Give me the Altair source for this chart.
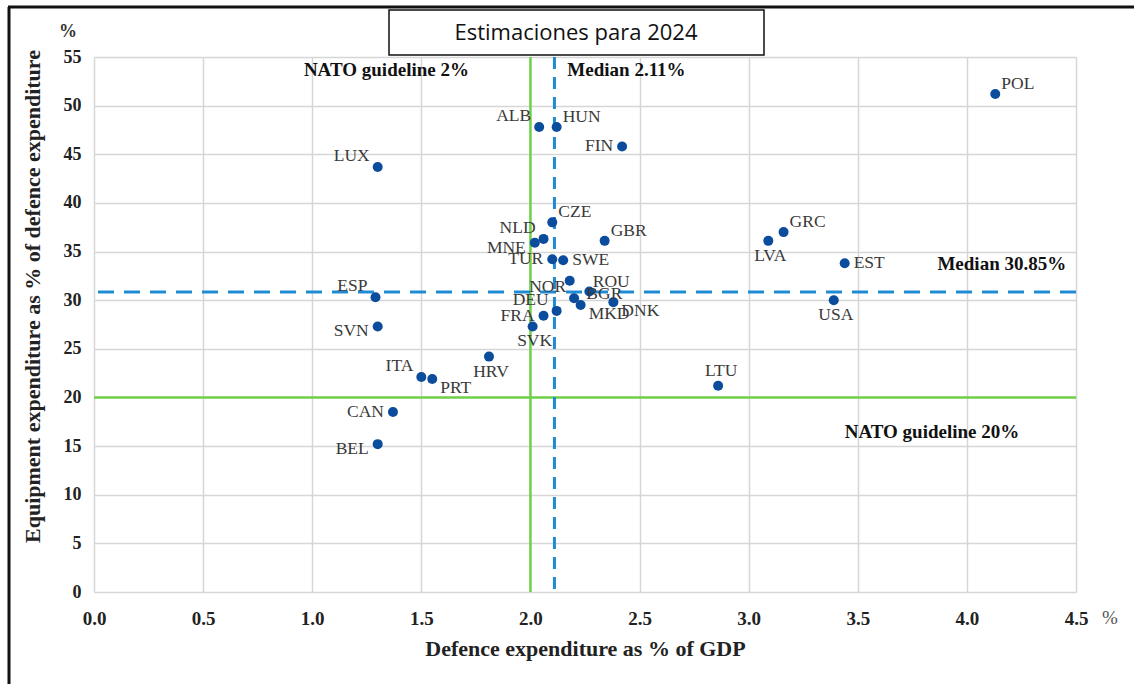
import altair as alt
import pandas as pd

# ---- data ----
countries = ["POL", "ALB", "HUN", "FIN", "LUX", "CZE", "NLD", "MNE", "TUR", "SWE",
             "GBR", "ROU", "NOR", "BGR", "MKD", "DNK", "DEU", "FRA", "SVK", "ESP",
             "SVN", "ITA", "PRT", "HRV", "CAN", "BEL", "LTU", "USA", "EST", "LVA", "GRC"]
gdp_share = [4.13, 2.04, 2.12, 2.42, 1.30, 2.10, 2.06, 2.02, 2.10, 2.15,
             2.34, 2.18, 2.20, 2.27, 2.23, 2.38, 2.12, 2.06, 2.01, 1.29,
             1.30, 1.50, 1.55, 1.81, 1.37, 1.30, 2.86, 3.39, 3.44, 3.09, 3.16]
equip_share = [51.2, 47.8, 47.8, 45.8, 43.7, 38.0, 36.3, 35.9, 34.2, 34.1,
               36.1, 32.0, 30.2, 30.9, 29.5, 29.8, 28.9, 28.4, 27.3, 30.3,
               27.3, 22.1, 21.9, 24.2, 18.5, 15.2, 21.2, 30.0, 33.8, 36.1, 37.0]
label_side = ["RU", "LU", "RU", "L", "LU", "RU", "LU", "LD", "L", "R",
              "RU", "RF", "LU", "RO", "RD", "RD", "LU", "L", "B", "LU",
              "LD", "LU", "RD", "B", "L", "LD", "A", "B", "R", "B", "RU"]

guide_x = [2.0]
median_x = [2.11]
guide_y = [20.0]
median_y = [30.85]

notes = ["NATO guideline 2%", "Median 2.11%", "Median 30.85%", "NATO guideline 20%"]
note_x = [1.34, 2.44, 4.16, 3.84]
note_y = [53.7, 53.7, 33.7, 16.4]

x_ticks = [0.0, 0.5, 1.0, 1.5, 2.0, 2.5, 3.0, 3.5, 4.0, 4.5]
y_ticks = [0, 5, 10, 15, 20, 25, 30, 35, 40, 45, 50, 55]

title_text = "Estimaciones para 2024"

df = pd.DataFrame({"country": countries, "gdp": gdp_share, "equip": equip_share, "side": label_side})
notes_df = pd.DataFrame({"text": notes, "x": note_x, "y": note_y})
one = pd.DataFrame({"k": [0]})

W, H = 982, 535
SERIF = "Liberation Serif"
xs = alt.Scale(domain=[0, 4.5], nice=False, zero=True)
ys = alt.Scale(domain=[0, 55], nice=False, zero=True)

GREEN = "#6fd14a"
BLUE = "#1f8bd3"
DOT = "#0b4c9c"

x_enc = alt.X("gdp:Q", scale=xs, axis=alt.Axis(
    values=x_ticks, format=".1f", title="Defence expenditure as % of GDP",
    titleY=56, titleBaseline="middle", labelPadding=17, labelFlush=False, labelFontSize=19))
y_enc = alt.Y("equip:Q", scale=ys, axis=alt.Axis(
    values=y_ticks, format="d", title="Equipment expenditure as % of defence expenditure",
    titleX=-62, titleY=239, titleAlign="center", titleBaseline="middle", labelPadding=13,
    labelFlush=False))

points = alt.Chart(df).mark_circle(size=100, color=DOT, opacity=1).encode(x=x_enc, y=y_enc)

placements = {
    "L": ("right", -9, 0),
    "LU": ("right", -8, -11),
    "LD": ("right", -9, 5),
    "R": ("left", 9, 0),
    "RF": ("left", 23, 1),
    "RO": ("left", -3, 3),
    "RU": ("left", 6, -10),
    "RD": ("left", 8, 9),
    "B": ("center", 2, 15),
    "A": ("center", 3, -15),
}
label_layers = []
for key, (al, dx, dy) in placements.items():
    label_layers.append(
        alt.Chart(df).transform_filter(alt.datum.side == key)
        .mark_text(font=SERIF, fontSize=17.5, color="#3a3a3a", align=al, dx=dx, dy=dy, baseline="middle")
        .encode(x=alt.X("gdp:Q", scale=xs), y=alt.Y("equip:Q", scale=ys), text="country:N")
    )

vguide = alt.Chart(pd.DataFrame({"v": guide_x})).mark_rule(color=GREEN, strokeWidth=2.5).encode(
    x=alt.X("v:Q", scale=xs))
hguide = alt.Chart(pd.DataFrame({"v": guide_y})).mark_rule(color=GREEN, strokeWidth=2.5).encode(
    y=alt.Y("v:Q", scale=ys))
vmed = alt.Chart(pd.DataFrame({"v": median_x})).mark_rule(color=BLUE, strokeWidth=3, strokeDash=[12, 8]).encode(
    x=alt.X("v:Q", scale=xs))
hmed = alt.Chart(pd.DataFrame({"v": median_y})).mark_rule(color=BLUE, strokeWidth=3, strokeDash=[16, 10]).encode(
    y=alt.Y("v:Q", scale=ys))

note_layer = alt.Chart(notes_df).mark_text(font=SERIF, fontSize=19, fontWeight="bold", color="#111",
                                           align="center", baseline="middle").encode(
    x=alt.X("x:Q", scale=xs), y=alt.Y("y:Q", scale=ys), text="text:N")

# decorations: title box, frame, unit marks
title_box = alt.Chart(one).mark_rect(fill="white", stroke="#111", strokeWidth=1.5).encode(
    x=alt.value(295), x2=alt.value(670), y=alt.value(-47), y2=alt.value(-2))
title_lbl = alt.Chart(one).mark_text(text=title_text, font="Open Sans", fontSize=22, color="#111",
                                     align="center", baseline="middle").encode(
    x=alt.value(482), y=alt.value(-24))
frame_top = alt.Chart(one).mark_rule(color="#111", strokeWidth=3).encode(
    x=alt.value(-86), x2=alt.value(1040), y=alt.value(-50))
frame_left = alt.Chart(one).mark_rule(color="#111", strokeWidth=3).encode(
    x=alt.value(-85), y=alt.value(-50), y2=alt.value(627))
pct_x = alt.Chart(one).mark_text(text="%", font=SERIF, fontSize=19, color="#555",
                                 align="center", baseline="middle").encode(
    x=alt.value(1016), y=alt.value(561))
pct_y = alt.Chart(one).mark_text(text="%", font=SERIF, fontSize=18, fontWeight="bold", color="#333",
                                 align="center", baseline="middle").encode(
    x=alt.value(-26), y=alt.value(-25))

chart = alt.layer(
    vguide, hguide, vmed, hmed, points, *label_layers, note_layer,
    title_box, title_lbl, frame_top, frame_left, pct_x, pct_y
).properties(
    width=W, height=H,
    autosize=alt.AutoSizeParams(type="none"),
    padding={"left": 94, "top": 57, "right": 58, "bottom": 92},
    background="white",
).configure_view(stroke=None).configure_axis(
    grid=True, gridColor="#d6d6d6", gridWidth=1.5, domain=False, ticks=False,
    labelFont=SERIF, labelFontSize=18, labelFontWeight="bold", labelColor="#222",
    titleFont=SERIF, titleFontSize=22, titleFontWeight="bold", titleColor="#222",
)

chart.save("out.html", embed_options={"renderer": "svg", "actions": False})
